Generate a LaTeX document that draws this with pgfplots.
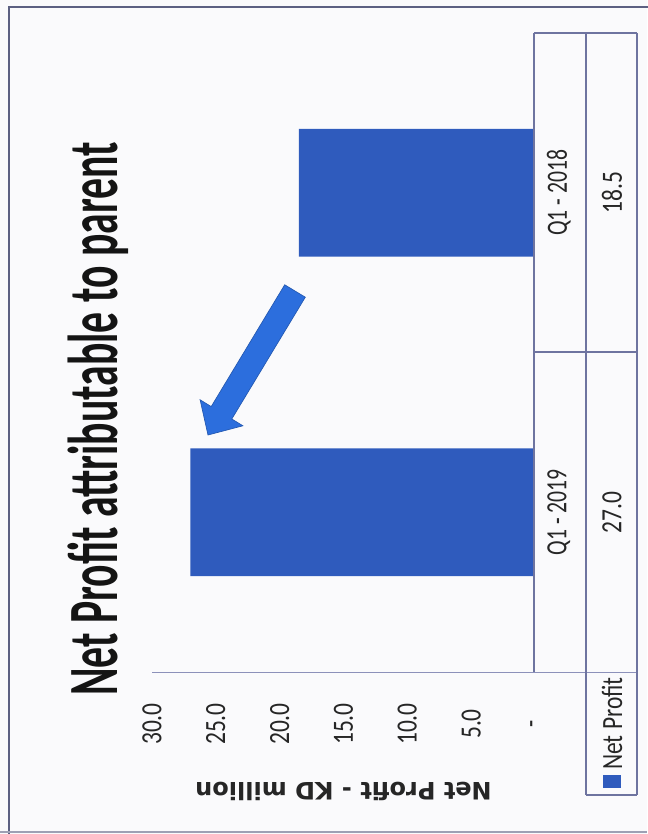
\documentclass[border=0pt]{standalone}
\usepackage{fontspec}
\setmainfont{Carlito}
\newfontfamily\chartfont[FakeStretch=0.8]{Carlito}
\newfontfamily\catfont[FakeStretch=0.74]{Carlito}
\newfontfamily\titlefont[FakeStretch=0.59]{Carlito}
\newfontfamily\labfont{DejaVu Sans}
\usepackage{pgfplots}
\usepackage{pgfplotstable}
\pgfplotsset{compat=1.18}

\definecolor{barblue}{HTML}{2F5BBD}
\definecolor{arrowblue}{HTML}{2C6EDD}
\definecolor{rulec}{HTML}{6E74A0}
\definecolor{axisrule}{HTML}{8C91BA}
\definecolor{framec}{HTML}{5C6082}
\definecolor{txt}{HTML}{262626}
\definecolor{bg}{HTML}{FAFAFC}

% catx / valx: where the two table columns sit (value units, right of the zero line)
\pgfplotstableread[col sep=comma]{
y,value,cat,catx,valx
0,27.0,Q1 - 2019,-1.87,-6.03
1,18.5,Q1 - 2018,-1.87,-6.03
}\profit

\begin{document}
\begin{tikzpicture}
% page = 647 x 834 px at 0.75pt/px, axis corner at px (152,672)
\path[use as bounding box] (-114pt,-121.5pt) rectangle (371.25pt,504pt);
\tikzset{px/.style={x=0.75pt,y=-0.75pt,shift={(-114pt,504pt)}}}
\fill[bg,px] (0,0) rectangle (647,834);

\begin{axis}[
  scale only axis, width=287.25pt, height=479.25pt,
  at={(0,0)}, anchor=south west,
  x dir=reverse, xmin=0, xmax=30, ymin=-0.5, ymax=1.5,
  clip=false,
  axis line style={draw=none}, major tick length=0pt,
  ytick=\empty,
  xtick={0,5,...,30},
  xticklabels={-,5.0,10.0,15.0,20.0,25.0,30.0},
  xticklabel style={font=\chartfont\fontsize{22}{26}\selectfont, text=txt,
    anchor=center, yshift=-39pt, rotate=90},
  xlabel={Net Profit - KD million},
  xlabel style={at={(axis description cs:0.5,-0.1862)}, anchor=center, rotate=180,
    font=\labfont\bfseries\fontsize{18}{22}\selectfont, text=txt},
]
\addplot[xbar, bar width=0.4, fill=barblue, draw=none]
  table[x=value, y=y] {\profit};

% data table under the chart: category and value columns
\addplot[forget plot, draw=none, mark=none, nodes near coords, point meta=explicit symbolic,
  every node near coord/.append style={anchor=center, rotate=90, text=txt,
    font=\catfont\fontsize{22}{26}\selectfont}]
  table[x=catx, y=y, meta=cat] {\profit};
\addplot[forget plot, draw=none, mark=none, nodes near coords, point meta=explicit symbolic,
  every node near coord/.append style={anchor=center, rotate=90, text=txt,
    font=\chartfont\fontsize{22}{26}\selectfont}]
  table[x=valx, y=y, meta=value] {\profit};
\end{axis}

\begin{scope}[px]
% rules of the data table and the value axis
\draw[axisrule, line width=0.9pt] (152,672.5) -- (637,672.5);
\draw[rulec, line width=0.9pt] (534,33) -- (534,672)
  (586,33) -- (586,795) (637,33) -- (637,795)
  (534,33) -- (637,33) (534,352) -- (637,352) (586,795) -- (637,795);
% legend key in the table's first cell
\fill[barblue] (603,775) rectangle (621,788);
\node[rotate=90, anchor=west, inner sep=0pt, text=txt,
  font=\chartfont\fontsize{22}{26}\selectfont] at (612,770) {Net Profit};
% outer frame
\draw[framec, line width=1.5pt] (9.5,840) -- (9.5,7.5) -- (660,7.5);
\draw[framec!60, line width=1.2pt] (0,832) -- (647,832);
% title
\node[rotate=90, font=\titlefont\bfseries\fontsize{53}{58}\selectfont, text=black!92]
  at (98,419) {Net Profit attributable to parent};
% block arrow pointing at the 2019 bar
\filldraw[fill=arrowblue, draw=arrowblue!80!black, line width=0.5pt]
  (305.3,297.2) -- (231.8,419.0) -- (242.9,425.8) -- (208,435)
  -- (200.1,399.8) -- (211.2,406.6) -- (284.7,284.8) -- cycle;
\end{scope}
\end{tikzpicture}
\end{document}
